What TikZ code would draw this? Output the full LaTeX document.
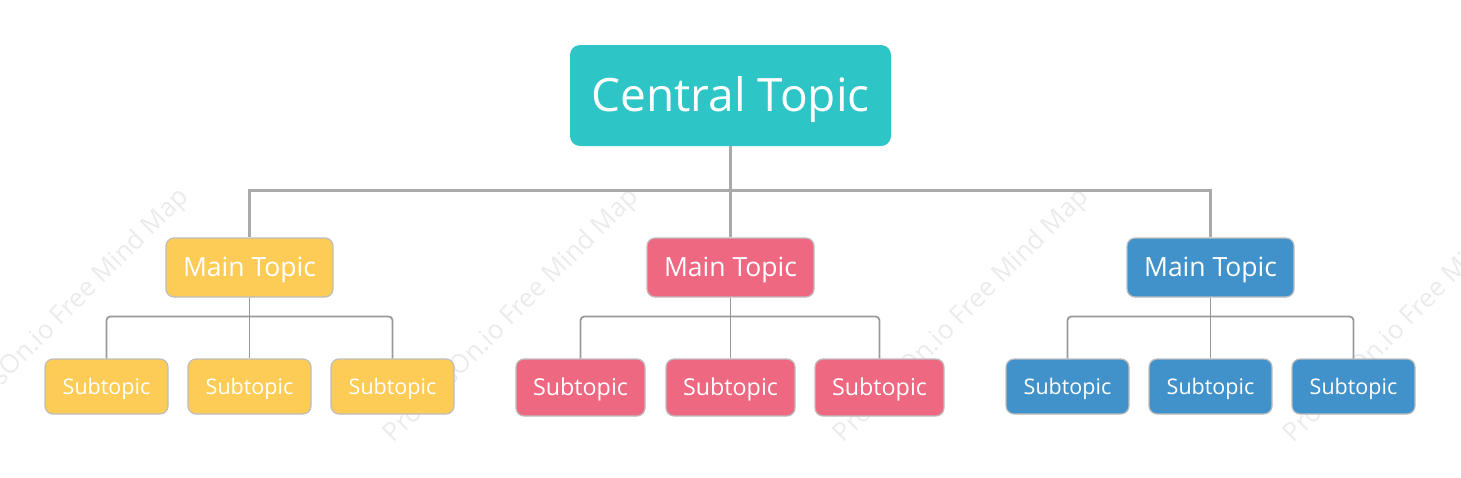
\documentclass[tikz,border=0pt]{standalone}
\usepackage{fontspec}
\setmainfont{Open Sans}
\definecolor{centralteal}{HTML}{2EC5C7}
\definecolor{mainyellow}{HTML}{FDCC57}
\definecolor{mainpink}{HTML}{EF6882}
\definecolor{mainblue}{HTML}{4192CA}
\definecolor{boxline}{HTML}{BDBDBD}
\definecolor{trunkgray}{HTML}{AAAAAA}
\definecolor{branchgray}{HTML}{999999}
\tikzset{
  topic/.style={rounded corners=8pt, draw=boxline, line width=1.2pt, text=white,
    inner sep=0pt, text depth=0pt},
  maintopic/.style={topic, minimum width=167pt, minimum height=59pt,
    font=\fontsize{26.5}{32}\selectfont, text height=18.9pt},
  subtopic/.style={topic, minimum width=123pt, minimum height=55pt,
    font=\fontsize{21.5}{26}\selectfont, text height=15.4pt},
  bigsub/.style={subtopic, minimum width=129pt, minimum height=57pt,
    font=\fontsize{23.3}{28}\selectfont, text height=16.6pt},
  trunk/.style={draw=trunkgray, line width=3pt},
  branch/.style={draw=branchgray, line width=1.8pt, rounded corners=4pt},
  watermark/.style={text=black!8, font=\fontsize{26}{30}\selectfont, rotate=45}
}

\begin{document}
\begin{tikzpicture}[x=1pt,y=-1pt]
\clip (0,0) rectangle (1461,477);
% faint watermarks behind everything
\foreach \wx in {62,512,962,1412}
  \node[watermark] (wm\wx) at (\wx,316) {ProcessOn.io Free Mind Map};

% central topic
\node[fill=centralteal, rounded corners=10pt, text=white, inner sep=0pt,
  minimum width=321pt, minimum height=101pt, text height=32.8pt, text depth=0pt,
  font=\fontsize{46}{55}\selectfont] (central) at (730.5,95.5) {Central Topic};

% main topics
\node[maintopic, fill=mainyellow] (mainA) at (249.5,267.5) {Main Topic};
\node[maintopic, fill=mainpink] (mainB) at (730.5,267.5) {Main Topic};
\node[maintopic, fill=mainblue] (mainC) at (1210.5,267.5) {Main Topic};

% subtopics
\node[subtopic, fill=mainyellow] (subA1) at (106.5,386.5) {Subtopic};
\node[subtopic, fill=mainyellow] (subA2) at (249.5,386.5) {Subtopic};
\node[subtopic, fill=mainyellow] (subA3) at (392.5,386.5) {Subtopic};
\node[bigsub, fill=mainpink] (subB1) at (580.5,387.5) {Subtopic};
\node[bigsub, fill=mainpink] (subB2) at (730.5,387.5) {Subtopic};
\node[bigsub, fill=mainpink] (subB3) at (879.5,387.5) {Subtopic};
\node[subtopic, fill=mainblue] (subC1) at (1067.5,386.5) {Subtopic};
\node[subtopic, fill=mainblue] (subC2) at (1210.5,386.5) {Subtopic};
\node[subtopic, fill=mainblue] (subC3) at (1353.5,386.5) {Subtopic};

% connectors
\draw[trunk] (mainA.north) -- ++(0,-47) -| (mainC.north);
\draw[trunk] (central.south) -- (mainB.north);
\draw[branch] (subA1.north) -- ++(0,-42) -| (subA3.north);
\draw[branch] (mainA.south) -- (subA2.north);
\draw[branch] (subB1.north) -- ++(0,-42) -| (subB3.north);
\draw[branch] (mainB.south) -- (subB2.north);
\draw[branch] (subC1.north) -- ++(0,-42) -| (subC3.north);
\draw[branch] (mainC.south) -- (subC2.north);
\end{tikzpicture}
\end{document}
